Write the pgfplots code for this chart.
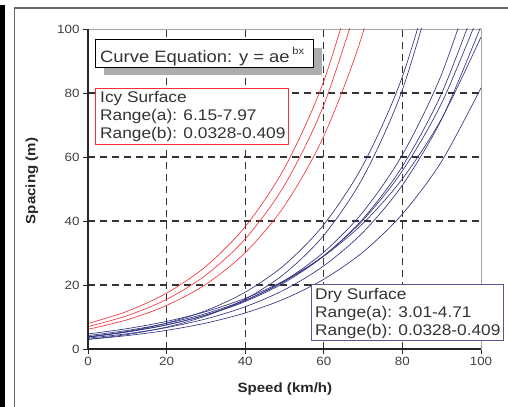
\documentclass[border=0pt]{standalone}
\usepackage{fontspec}
\setmainfont{Liberation Sans}[FakeStretch=1.12]
\usepackage{pgfplots}
\pgfplotsset{compat=1.18}
\definecolor{icy}{RGB}{245,50,55}
\definecolor{dry}{RGB}{50,52,130}
\definecolor{drybox}{RGB}{85,87,145}
\begin{document}
\begin{tikzpicture}
\path[use as bounding box] (0,0) rectangle (508bp,407bp);
\fill[black] (0,0) rectangle (4.5bp,402bp);
\draw[black!60, line width=1.3bp] (14.5bp,0) -- (14.5bp,399bp) -- (508bp,399bp);
\begin{axis}[name=ax, at={(88bp,58bp)}, anchor=south west, scale only axis,
  width=393bp, height=320bp, xmin=0, xmax=100, ymin=0, ymax=100,
  xtick={0,20,...,100}, ytick={0,20,...,100},
  minor xtick={20,40,60,80}, minor ytick={20,40,60,80},
  xminorgrids=true, yminorgrids=true,
  minor grid style={black!80, line width=1.1bp, dash pattern=on 7bp off 5bp},
  minor tick length=0pt, major tick length=5bp, tick align=outside,
  xtick pos=bottom, ytick pos=left,
  axis line style={black!35, line width=0.8bp},
  tick style={black!85, line width=0.9bp},
  /pgf/number format/assume math mode=true,
  ticklabel style={font=\fontsize{12}{12}\selectfont, text=black!75},
  label style={font=\fontsize{13.5}{14}\selectfont\bfseries, text=black!85},
  xlabel={Speed (km/h)}, ylabel={Spacing (m)},
  xlabel style={at={(axis description cs:0.501,-0.125)}, anchor=center},
  ylabel style={at={(axis description cs:-0.1425,0.525)}, anchor=center},
  every axis plot/.append style={smooth, line width=0.65bp},
]
% Icy surface
\addplot[icy] coordinates {(0,7.97) (10,11.795) (20,17.456) (30,25.834) (40,38.233) (50,56.582) (60,83.738) (70,123.93)};
\addplot[icy] coordinates {(0,7.0) (10,10.422) (20,15.517) (30,23.102) (40,34.395) (50,51.209) (60,76.242) (70,113.51)};
\addplot[icy] coordinates {(0,6.15) (10,9.147) (20,13.605) (30,20.236) (40,30.098) (50,44.766) (60,66.583) (70,99.03) (80,147.3)};
% Dry surface
\addplot[dry] coordinates {(0,3.7) (10,5.476) (20,8.104) (30,11.993) (40,17.749) (50,26.267) (60,38.874) (70,57.530) (80,85.14) (90,126.0)};
\addplot[dry] coordinates {(0,3.0) (10,4.529) (20,6.839) (30,10.325) (40,15.589) (50,23.537) (60,35.536) (70,53.653) (80,81.00) (90,122.3)};
\addplot[dry] coordinates {(0,3.75) (10,5.311) (20,7.522) (30,10.653) (40,15.087) (50,21.367) (60,30.262) (70,42.859) (80,60.70) (90,85.96) (100,121.7)};
\addplot[dry] coordinates {(0,3.85) (10,5.393) (20,7.554) (30,10.582) (40,14.823) (50,20.763) (60,29.084) (70,40.740) (80,57.067) (90,79.94) (100,111.97)};
\addplot[dry] coordinates {(0,4.2) (10,5.801) (20,8.014) (30,11.069) (40,15.290) (50,21.120) (60,29.173) (70,40.296) (80,55.661) (90,76.88) (100,106.2)};
\addplot[dry] coordinates {(0,3.4) (10,4.772) (20,6.698) (30,9.401) (40,13.195) (50,18.520) (60,25.994) (70,36.484) (80,51.208) (90,71.874) (100,100.88)};
\addplot[dry] coordinates {(0,4.71) (10,6.377) (20,8.634) (30,11.690) (40,15.828) (50,21.430) (60,29.015) (70,39.284) (80,53.188) (90,72.013) (100,97.50)};
\addplot[dry] coordinates {(0,3.01) (10,4.187) (20,5.824) (30,8.101) (40,11.268) (50,15.674) (60,21.802) (70,30.326) (80,42.183) (90,58.675) (100,81.61)};
\end{axis}
\draw[black!85, line width=1.3bp] (ax.north west) -- (ax.south west) -- (ax.south east);
% Curve equation box with shadow
\fill[black!32] (104bp,332bp) rectangle (322bp,359bp);
\draw[black, line width=1bp, fill=white] (95bp,339bp) rectangle (313bp,367bp);
\node[anchor=base west, inner sep=0pt, font=\fontsize{16.5}{17}\selectfont, text=black!80] at (100bp,344bp) {Curve Equation: y = ae\,\raisebox{8bp}{\fontsize{10}{10}\selectfont bx}};
% Icy box
\draw[icy, line width=0.9bp, fill=white] (95bp,263bp) rectangle (288bp,319bp);
\begin{scope}[every node/.style={anchor=base west, inner sep=0pt, font=\fontsize{15.5}{16}\selectfont, text=black!80}]
\node at (100bp,304bp) {Icy Surface};
\node at (100bp,286bp) {Range(a): 6.15-7.97};
\node at (100bp,268bp) {Range(b): 0.0328-0.409};
\end{scope}
% Dry box
\draw[drybox, line width=1bp, fill=white] (311bp,66bp) rectangle (503bp,122bp);
\begin{scope}[every node/.style={anchor=base west, inner sep=0pt, font=\fontsize{15.5}{16}\selectfont, text=black!80}]
\node at (315bp,107bp) {Dry Surface};
\node at (315bp,89bp) {Range(a): 3.01-4.71};
\node at (315bp,71bp) {Range(b): 0.0328-0.409};
\end{scope}
\end{tikzpicture}
\end{document}
